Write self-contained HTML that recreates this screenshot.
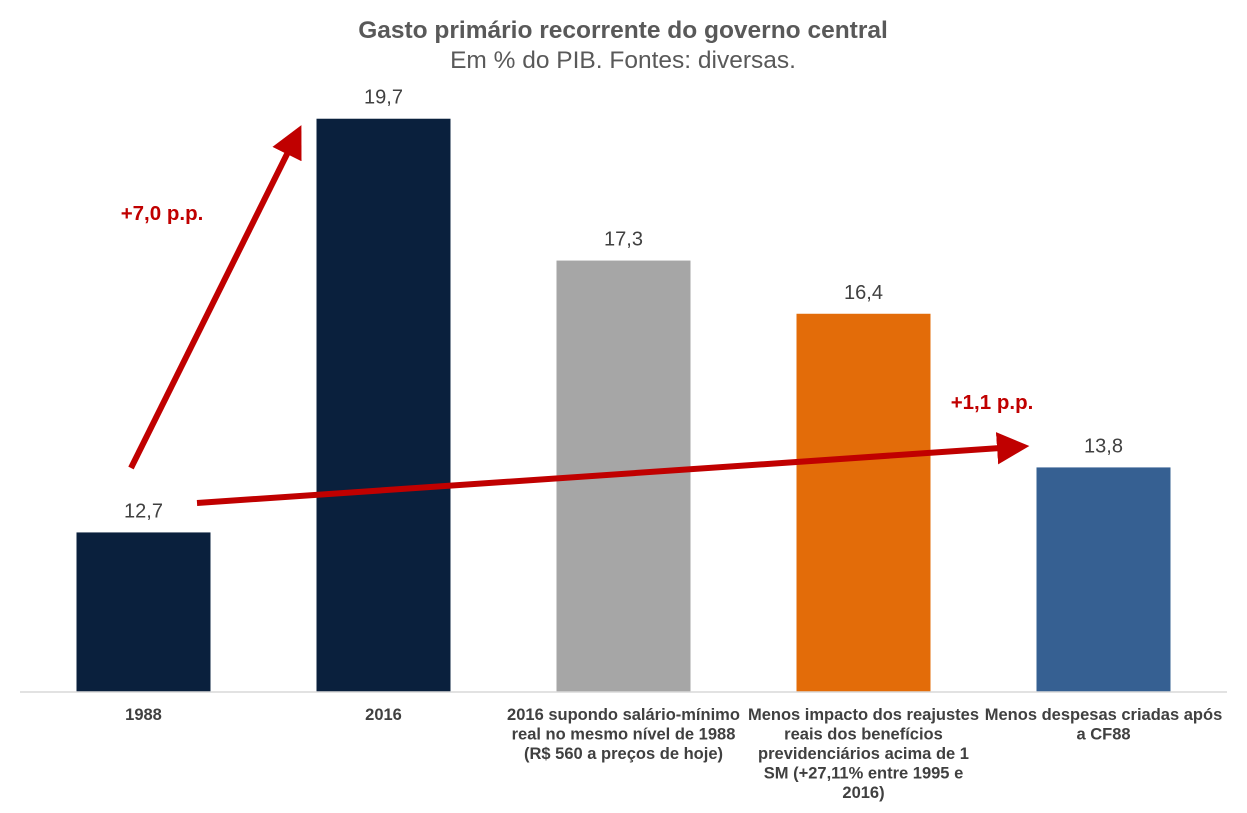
<!DOCTYPE html>
<html><head><meta charset="utf-8"><style>
body{margin:0;background:#fff;}
svg{display:block;font-family:"Liberation Sans",Arial,sans-serif;}
</style></head><body>
<svg id="chart" width="1247" height="813">
<defs>
<marker id="ah" markerWidth="6" markerHeight="6" refX="3" refY="3" orient="auto" markerUnits="strokeWidth"><path d="M0,0.3 L5.4,3 L0,5.7 z" fill="#c00000"/></marker>
</defs>
<text x="623" y="38" text-anchor="middle" font-size="24.5" font-weight="bold" fill="#595959">Gasto primário recorrente do governo central</text>
<text x="623" y="68" text-anchor="middle" font-size="24.5" fill="#595959">Em % do PIB. Fontes: diversas.</text>
<g id="bars"></g>
<line x1="20" y1="692" x2="1227" y2="692" stroke="#d9d9d9" stroke-width="1.5"/>
<g id="cats"></g>
<line x1="131" y1="468" x2="295" y2="138" stroke="#c00000" stroke-width="6" marker-end="url(#ah)"/>
<text x="162" y="220" text-anchor="middle" font-size="20.5" font-weight="bold" fill="#c00000">+7,0 p.p.</text>
<line x1="197" y1="503" x2="1015" y2="447" stroke="#c00000" stroke-width="6" marker-end="url(#ah)"/>
<text x="992" y="409" text-anchor="middle" font-size="20.5" font-weight="bold" fill="#c00000">+1,1 p.p.</text>
</svg>
<script>
const categories=[["1988"],["2016"],["2016 supondo salário-mínimo","real no mesmo nível de 1988","(R$ 560 a preços de hoje)"],["Menos impacto dos reajustes","reais dos benefícios","previdenciários acima de 1","SM (+27,11% entre 1995 e","2016)"],["Menos despesas criadas após","a CF88"]];
const values=[12.7,19.7,17.3,16.4,13.8];
const labels=["12,7","19,7","17,3","16,4","13,8"];
const colors=["#0a203d","#0a203d","#a6a6a6","#e36c09","#366092"];
const yMin=10, baseY=692, pxPerUnit=59.1;
const y=v=>baseY-(v-yMin)*pxPerUnit;
const xC=i=>143.5+i*240;
const ns="http://www.w3.org/2000/svg";
const bars=document.getElementById('bars'), cats=document.getElementById('cats');
values.forEach((v,i)=>{
  const r=document.createElementNS(ns,'rect');
  r.setAttribute('x',xC(i)-67);r.setAttribute('width',134);
  r.setAttribute('y',y(v));r.setAttribute('height',baseY-y(v));
  r.setAttribute('fill',colors[i]);
  
  
  bars.appendChild(r);
  const t=document.createElementNS(ns,'text');
  t.setAttribute('x',xC(i));t.setAttribute('y',y(v)-15);
  t.setAttribute('text-anchor','middle');t.setAttribute('font-size','20');t.setAttribute('fill','#404040');
  t.textContent=labels[i];
  
  
  bars.appendChild(t);
  const c=document.createElementNS(ns,'text');
  c.setAttribute('text-anchor','middle');c.setAttribute('font-size','16.5');c.setAttribute('font-weight','bold');c.setAttribute('fill','#404040');
  categories[i].forEach((line,k)=>{
    const s=document.createElementNS(ns,'tspan');
    s.setAttribute('x',xC(i));s.setAttribute('y',720+k*19.5);s.textContent=line;c.appendChild(s);
  });
  
  
  cats.appendChild(c);
});
</script>
</body></html>
